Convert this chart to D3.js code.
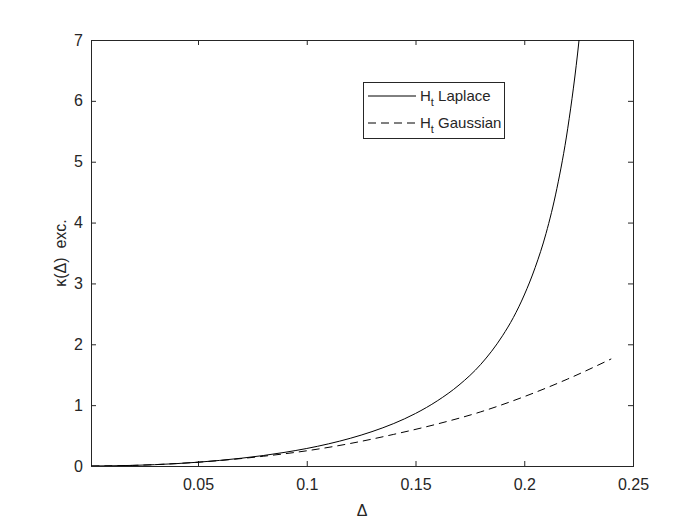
<!DOCTYPE html>
<html><head><meta charset="utf-8">
<script src="https://cdn.jsdelivr.net/npm/d3@7"></script>
<style>body{margin:0;background:#fff}svg{display:block}text{font-family:"Liberation Sans",Arial,sans-serif;fill:#262626}</style>
</head><body>
<script>
const deltaLaplace = [0.001,0.02,0.04,0.06,0.08,0.09,0.10,0.11,0.12,0.13,0.14,0.15,0.16,0.17,0.18,0.19,0.195,0.20,0.205,0.21,0.215,0.22,0.2252,0.2262];
const kappaLaplace = [0.00,0.01,0.039,0.092,0.172,0.225,0.288,0.364,0.455,0.565,0.698,0.863,1.07,1.33,1.67,2.14,2.44,2.81,3.26,3.82,4.56,5.55,7.00,7.35];
const deltaGauss = [0.001,0.02,0.04,0.06,0.08,0.10,0.12,0.14,0.16,0.18,0.20,0.22,0.24];
const kappaGauss = [0.00,0.01,0.04,0.09,0.16,0.25,0.37,0.52,0.69,0.89,1.14,1.43,1.76];
const xTicks = [0.05,0.1,0.15,0.2,0.25];
const yTicks = [0,1,2,3,4,5,6,7];
const legendNames = ["Laplace","Gaussian"];

const W=700,H=525;
const m={l:91,r:633,t:40,b:466};
const svg=d3.select("body").append("svg").attr("width",W).attr("height",H);
const x=d3.scaleLinear().domain([0.0008,0.25]).range([m.l,m.r]);
const y=d3.scaleLinear().domain([0,7]).range([m.b,m.t]);

svg.append("defs").append("clipPath").attr("id","clip").append("rect")
  .attr("x",m.l).attr("y",m.t).attr("width",m.r-m.l).attr("height",m.b-m.t);

const tl=5;
const fmt=d=>String(d);
const styleText=g=>g.selectAll("text").attr("font-size",16).attr("fill","#262626").style("font-family","Liberation Sans, Arial");
svg.append("g").attr("transform",`translate(0,${m.b})`)
  .call(d3.axisBottom(x).tickValues(xTicks).tickSize(-tl).tickPadding(13).tickFormat(fmt))
  .call(g=>{g.select(".domain").remove();g.selectAll("line").attr("stroke","#262626");styleText(g);});
svg.append("g").attr("transform",`translate(0,${m.t})`)
  .call(d3.axisTop(x).tickValues(xTicks).tickSize(-tl).tickFormat(""))
  .call(g=>{g.select(".domain").remove();g.selectAll("line").attr("stroke","#262626");});
svg.append("g").attr("transform",`translate(${m.l},0)`)
  .call(d3.axisLeft(y).tickValues(yTicks).tickSize(-tl).tickPadding(8).tickFormat(fmt))
  .call(g=>{g.select(".domain").remove();g.selectAll("line").attr("stroke","#262626");styleText(g);});
svg.append("g").attr("transform",`translate(${m.r},0)`)
  .call(d3.axisRight(y).tickValues(yTicks).tickSize(-tl).tickFormat(""))
  .call(g=>{g.select(".domain").remove();g.selectAll("line").attr("stroke","#262626");});
svg.append("rect").attr("x",m.l+0.5).attr("y",m.t+0.5).attr("width",m.r-m.l).attr("height",m.b-m.t)
  .attr("fill","none").attr("stroke","#262626").attr("stroke-width",1);

const line=d3.line().x(d=>x(d[0])).y(d=>y(d[1])).curve(d3.curveMonotoneX);
const lap=deltaLaplace.map((d,i)=>[d,kappaLaplace[i]]);
const gau=deltaGauss.map((d,i)=>[d,kappaGauss[i]]);
const plot=svg.append("g").attr("clip-path","url(#clip)");
plot.append("path").datum(lap).attr("d",line).attr("fill","none").attr("stroke","#000").attr("stroke-width",1);
plot.append("path").datum(gau).attr("d",line).attr("fill","none").attr("stroke","#000").attr("stroke-width",1).attr("stroke-dasharray","8,5");

// axis labels
svg.append("text").attr("x",(m.l+m.r)/2).attr("y",516).attr("text-anchor","middle").attr("font-size",16).text("Δ");
svg.append("text").attr("transform",`translate(66,${(m.t+m.b)/2}) rotate(-90)`).attr("text-anchor","middle").attr("font-size",16).attr("xml:space","preserve").text("κ(Δ)  exc.");

// legend
const lg=svg.append("g");
lg.append("rect").attr("x",363.5).attr("y",82.5).attr("width",141).attr("height",56).attr("fill","#fff").attr("stroke","#262626").attr("stroke-width",1);
legendNames.forEach((n,i)=>{
  const yy=96+i*27;
  lg.append("line").attr("x1",368).attr("x2",416).attr("y1",yy).attr("y2",yy).attr("stroke","#000").attr("stroke-width",1)
    .attr("stroke-dasharray",i===1?"8,5":null);
  const t=lg.append("text").attr("x",420).attr("y",yy+5).attr("font-size",15);
  t.append("tspan").text("H");
  t.append("tspan").attr("font-size",11).attr("dy",5).text("t");
  t.append("tspan").attr("dy",-5).text(" "+n);
});
</script>
</body></html>
